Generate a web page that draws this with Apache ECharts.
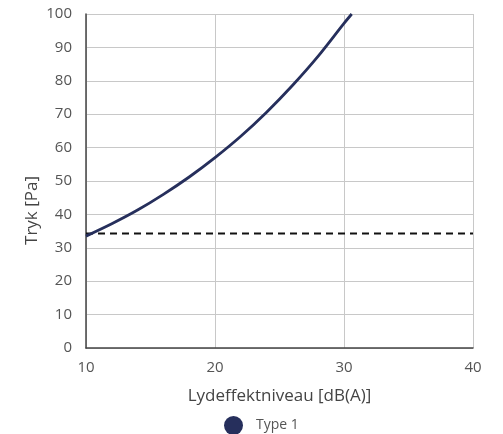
<!DOCTYPE html>
<html>
<head>
<meta charset="utf-8">
<script src="https://cdn.jsdelivr.net/npm/echarts@6/dist/echarts.min.js"></script>
<style>html,body{margin:0;padding:0;background:#fff;}#c{width:503px;height:434px;}</style>
</head>
<body>
<div id="c"></div>
<script>
const xTicks = [10, 20, 30, 40];
const yTicks = [0, 10, 20, 30, 40, 50, 60, 70, 80, 90, 100];
const curveX = [10, 12, 14, 16, 18, 20, 22, 24, 26, 28, 30, 30.6];
const curveY = [33.5, 37.2, 41.3, 46, 51.2, 57, 63.4, 70.6, 78.6, 87.4, 97.2, 100];
const limitX = [10, 40];
const limitY = [34.3, 34.3];
const seriesName = 'Type 1';
const xName = 'Lydeffektniveau [dB(A)]';
const yName = 'Tryk [Pa]';

const font = '"Open Sans", sans-serif';
const navy = '#262f5c';
const chart = echarts.init(document.getElementById('c'));
chart.setOption({
  animation: false,
  grid: { left: 86, right: 30, top: 14, bottom: 86 },
  legend: {
    data: [{ name: seriesName, icon: 'circle' }],
    left: 219, top: 411,
    itemWidth: 19, itemHeight: 19, itemGap: 10,
    textStyle: { fontFamily: font, fontSize: 14, color: '#555', padding: [0, 0, 0, 8] }
  },
  graphic: [{
    type: 'text', left: 24, top: 176, rotation: Math.PI / 2,
    style: { text: yName, fontFamily: font, fontSize: 17, fill: '#444' }
  }],
  xAxis: {
    type: 'value', min: xTicks[0], max: xTicks[xTicks.length - 1], interval: 10,
    name: xName, nameLocation: 'middle', nameGap: 40,
    nameTextStyle: { fontFamily: font, fontSize: 17, color: '#444' },
    axisLine: { show: true, onZero: false, lineStyle: { color: '#444', width: 1.5 } },
    axisTick: { show: false },
    axisLabel: { fontFamily: font, fontSize: 15, color: '#555', margin: 12 },
    splitLine: { show: true, lineStyle: { color: '#c8c8c8', width: 1 } }
  },
  yAxis: {
    type: 'value', min: yTicks[0], max: yTicks[yTicks.length - 1], interval: 10,
    axisLine: { show: true, lineStyle: { color: '#444', width: 1.5 } },
    axisTick: { show: false },
    axisLabel: { fontFamily: font, fontSize: 15, color: '#555', margin: 14 },
    splitLine: { show: true, lineStyle: { color: '#c8c8c8', width: 1 } }
  },
  series: [
    {
      name: seriesName, type: 'line', smooth: 0.3, showSymbol: false,
      data: curveX.map((x, i) => [x, curveY[i]]),
      lineStyle: { color: navy, width: 2.8 }, itemStyle: { color: navy },
      z: 3
    },
    {
      name: 'limit', type: 'line', showSymbol: false,
      data: limitX.map((x, i) => [x, limitY[i]]),
      lineStyle: { color: '#111', width: 2, type: [7, 5] },
      itemStyle: { color: '#111' }, z: 2
    }
  ]
});
</script>
</body>
</html>
